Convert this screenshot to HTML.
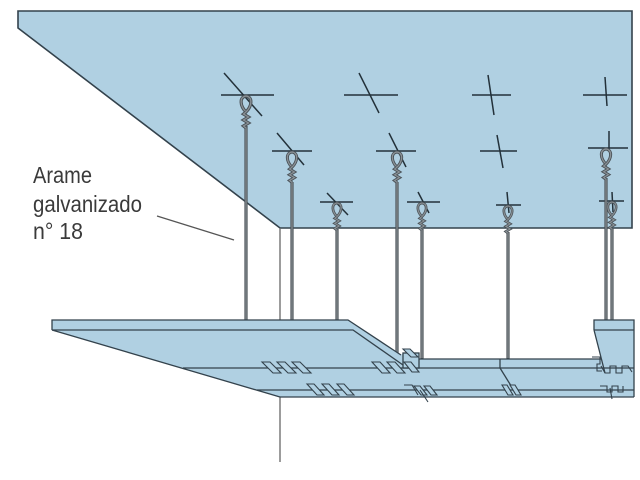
<!DOCTYPE html>
<html><head><meta charset="utf-8"><style>
html,body{margin:0;padding:0;background:#fff;}
svg{display:block;}
</style></head><body>
<svg width="640" height="480" viewBox="0 0 640 480" xmlns="http://www.w3.org/2000/svg">
<defs>
<g id="hk">
<path d="M0,0 C-7,1 -6,10 0,16 C6,10 7,1 0,0 Z" fill="none" stroke="#4a5258" stroke-width="3.2"/>
<path d="M0,0 C-7,1 -6,10 0,16 C6,10 7,1 0,0 Z" fill="none" stroke="#8a9196" stroke-width="1.3"/>
<path d="M0,16 L-2.5,18 L2.5,21 L-2.5,24 L2.5,27 L-2.5,30 L0,32" fill="none" stroke="#4a5258" stroke-width="3.2"/>
<path d="M0,16 L-2.5,18 L2.5,21 L-2.5,24 L2.5,27 L-2.5,30 L0,32" fill="none" stroke="#8a9196" stroke-width="1.3"/>
</g>
</defs>
<!-- top slab -->
<polygon points="18,11 632,11 632,228 280,228 18,28" fill="#b0d0e2" stroke="#33424c" stroke-width="1.6"/>
<!-- wall corner lines -->
<line x1="280" y1="228" x2="280" y2="320" stroke="#666" stroke-width="1.3"/>
<line x1="280" y1="397" x2="280" y2="462" stroke="#666" stroke-width="1.3"/>

<!-- crosses without wires -->
<g stroke="#23313a" stroke-width="1.5" fill="none">
<line x1="344" y1="95" x2="398" y2="95"/><line x1="359" y1="73" x2="379" y2="113"/>
<line x1="472" y1="95" x2="511" y2="95"/><line x1="488" y1="75" x2="494" y2="115"/>
<line x1="583" y1="95" x2="627" y2="95"/><line x1="605" y1="77" x2="607" y2="106"/>
<line x1="480" y1="151" x2="517" y2="151"/><line x1="497" y1="135" x2="503" y2="168"/>
<!-- crosses with wires -->
<line x1="221" y1="95" x2="274" y2="95"/><line x1="224" y1="73" x2="262" y2="116"/>
<line x1="272" y1="151" x2="312" y2="151"/><line x1="277" y1="133" x2="304" y2="165"/>
<line x1="376" y1="151" x2="416" y2="151"/><line x1="389" y1="133" x2="406" y2="167"/>
<line x1="588" y1="148" x2="628" y2="148"/><line x1="609" y1="131" x2="609" y2="150"/>
<line x1="320" y1="202" x2="353" y2="202"/><line x1="327" y1="193" x2="348" y2="215"/>
<line x1="407" y1="202" x2="440" y2="202"/><line x1="418" y1="192" x2="429" y2="213"/>
<line x1="496" y1="205" x2="521" y2="205"/><line x1="507" y1="192" x2="509" y2="213"/>
<line x1="599" y1="201" x2="624" y2="201"/><line x1="612" y1="192" x2="613" y2="212"/>
</g>

<!-- wires -->
<g stroke-linecap="butt">
<g stroke="#4a5258" stroke-width="3.2">
<line x1="246" y1="126" x2="246" y2="321"/>
<line x1="292" y1="182" x2="292" y2="321"/>
<line x1="337" y1="229" x2="337" y2="321"/>
<line x1="397" y1="182" x2="397" y2="355"/>
<line x1="422" y1="229" x2="422" y2="359"/>
<line x1="508" y1="232" x2="508" y2="359"/>
<line x1="606" y1="178" x2="606" y2="321"/>
<line x1="612" y1="228" x2="612" y2="321"/>
</g>
<g stroke="#81878b" stroke-width="1.4">
<line x1="246" y1="126" x2="246" y2="320"/>
<line x1="292" y1="182" x2="292" y2="320"/>
<line x1="337" y1="229" x2="337" y2="320"/>
<line x1="397" y1="182" x2="397" y2="354"/>
<line x1="422" y1="229" x2="422" y2="358"/>
<line x1="508" y1="232" x2="508" y2="358"/>
<line x1="606" y1="178" x2="606" y2="320"/>
<line x1="612" y1="228" x2="612" y2="320"/>
</g>
</g>
<use href="#hk" transform="translate(246,96)"/>
<use href="#hk" transform="translate(292,152) scale(0.95)"/>
<use href="#hk" transform="translate(397,152) scale(0.95)"/>
<use href="#hk" transform="translate(606,149) scale(0.95)"/>
<use href="#hk" transform="translate(337,203) scale(0.85)"/>
<use href="#hk" transform="translate(422,203) scale(0.85)"/>
<use href="#hk" transform="translate(508,206) scale(0.85)"/>
<use href="#hk" transform="translate(612,202) scale(0.85)"/>

<!-- lower false ceiling -->
<polygon points="52,320 348,320 401,355 403,353 419,353 419,359 602,359 594,330 594,320 634,320 634,397 280,397 52,330" fill="#b0d0e2" stroke="none"/>
<g stroke="#33424c" stroke-width="1.3" fill="none">
<polyline points="52,330 52,320 348,320 401,355"/>
<polyline points="52,330 353,330 403,365"/>
<line x1="52" y1="330" x2="280" y2="397"/>
<line x1="280" y1="397" x2="634" y2="397"/>
<line x1="183" y1="368" x2="634" y2="368"/>
<line x1="257" y1="390" x2="634" y2="390"/>
<line x1="419" y1="359" x2="601" y2="359"/>
<rect x="403" y="353" width="16" height="15" fill="#b0d0e2"/>
<line x1="500" y1="359" x2="500" y2="368"/>
<line x1="500" y1="368" x2="513" y2="389"/>
<polyline points="594,330 594,320 634,320 634,397"/>
<line x1="594" y1="330" x2="634" y2="330"/>
<line x1="594" y1="330" x2="605" y2="373"/>
</g>
<!-- clips -->
<g stroke="#33424c" stroke-width="1.1" fill="#b0d0e2">
<polygon points="262,362 270,362 281,373 273,373"/>
<polygon points="277,362 285,362 296,373 288,373"/>
<polygon points="292,362 300,362 311,373 303,373"/>
<polygon points="307,384 314,384 324,395 317,395"/>
<polygon points="322,384 329,384 339,395 332,395"/>
<polygon points="337,384 344,384 354,395 347,395"/>
<polygon points="372,362 380,362 390,373 382,373"/>
<polygon points="387,362 395,362 405,373 397,373"/>
<polygon points="403,349 410,349 418,357 411,357"/>
<polygon points="404,362 411,362 419,372 412,372"/>
<polyline points="404,385 412,385 418,395" fill="none"/>
<polygon points="414,386 420,386 427,395 421,395"/>
<polygon points="424,386 430,386 437,395 431,395"/>
<line x1="420" y1="390" x2="428" y2="402"/>
<polygon points="502,385 507,385 513,395 508,395"/>
<polygon points="510,385 515,385 521,395 516,395"/>
<polyline points="592,357 600,357 600,364 597,364 597,371 602,371" fill="none"/>
<polyline points="601,366 605,373 610,373 610,366 616,366 616,373 622,373 622,366 628,366 632,372" fill="none"/>
<polyline points="600,386 607,386 607,392 612,392 612,386 618,386 618,392 623,392 623,386" fill="none"/>
<line x1="610" y1="388" x2="612" y2="399"/>
</g>

<!-- label -->
<g font-family="'Liberation Sans', 'DejaVu Sans', sans-serif" font-size="23" fill="#3a3a3a">
<text x="33" y="183" textLength="59" lengthAdjust="spacingAndGlyphs">Arame</text>
<text x="33" y="212" textLength="109" lengthAdjust="spacingAndGlyphs">galvanizado</text>
<text x="33" y="239" textLength="50" lengthAdjust="spacingAndGlyphs">n° 18</text>
</g>
<line x1="157" y1="216" x2="234" y2="240" stroke="#555" stroke-width="1.2"/>
</svg>
</body></html>
